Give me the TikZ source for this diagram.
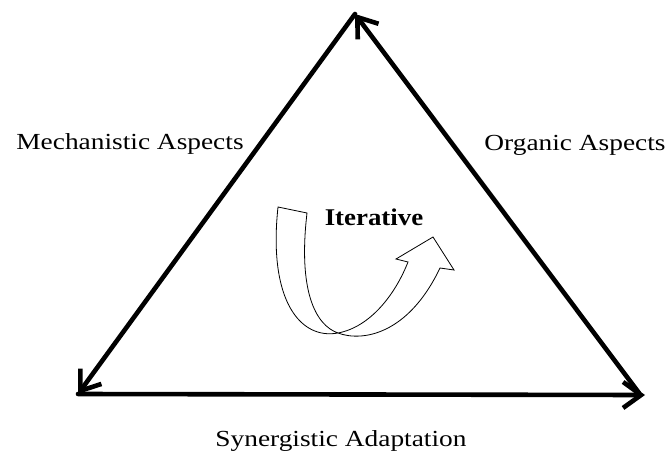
\documentclass[tikz,border=0pt]{standalone}
\usepackage{fontspec}
\setmainfont{Liberation Serif}
\usetikzlibrary{arrows.meta}
\begin{document}
\begin{tikzpicture}[x=1pt,y=-1pt,
  side/.style={line width=4.6pt, line cap=round,
    -{Straight Barb[length=18pt,width=26pt,line width=4.6pt]}},
  label/.style={font=\fontsize{23}{26}\selectfont, anchor=base,
    inner sep=0pt, xscale=1.19, transform shape},
  ribbon/.style={draw=black, line width=0.8pt, fill=white, line join=miter}]
\useasboundingbox (0,0) rectangle (668,452);

% corners of the triangle
\coordinate (T) at (355,14);
\coordinate (BL) at (78,394);
\coordinate (BR) at (645,395);
\coordinate (BRs) at (639,393);

% the three sides, each pointing on around the cycle
\draw[side] (T) -- (BL);
\draw[side] (BL) -- (BR);
\draw[side] (BRs) -- (T);

% labels
\node[label] (mech) at (130,149) {Mechanistic Aspects};
\node[label] (org) at (575,150) {Organic Aspects};
\node[label] (syn) at (341,446) {Synergistic Adaptation};
\node[label, font=\fontsize{24}{26}\selectfont\bfseries, xscale=1.12/1.19] (iter) at (374,225) {Iterative};

% twisted U-turn ribbon arrow
\draw[ribbon]
  (278,207) -- (307,213)
  .. controls (298,290) and (315,325) .. (338,333)
  .. controls (362,342) and (408,335) .. (440,268)
  -- (454,270) -- (433,237) -- (396,259) -- (408,262)
  .. controls (395,295) and (370,327) .. (338,333)
  .. controls (300,340) and (268,300) .. cycle;
\end{tikzpicture}
\end{document}
